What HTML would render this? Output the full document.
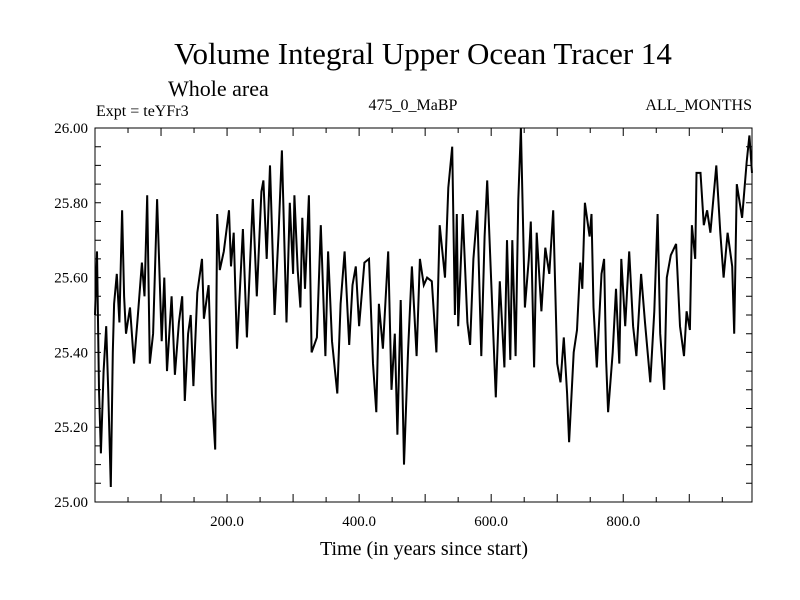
<!DOCTYPE html>
<html><head><meta charset="utf-8">
<style>
html,body{margin:0;padding:0;background:#fff;}
svg{display:block;font-family:"Liberation Serif",serif;}
</style></head>
<body>
<svg id="chart" width="800" height="600" viewBox="0 0 800 600" xmlns="http://www.w3.org/2000/svg">
<rect width="800" height="600" fill="#fff"/>
<text x="423" y="64" font-size="31" text-anchor="middle">Volume Integral Upper Ocean Tracer 14</text>
<text x="168" y="96" font-size="22">Whole area</text>
<text x="96" y="116" font-size="16">Expt = teYFr3</text>
<text x="413" y="110" font-size="16" text-anchor="middle">475_0_MaBP</text>
<text x="752" y="110" font-size="16" text-anchor="end">ALL_MONTHS</text>
<text x="424" y="555" font-size="20" text-anchor="middle">Time (in years since start)</text>
<g id="axes"></g>
<g id="series"></g>
<rect x="95" y="128" width="657" height="374" fill="none" stroke="#000" stroke-width="1"/>
</svg>
<script>
const years=[0,3,6,9,13,17,20,24,27,29,33,37,41,44,47,53,59,65,71,75,79,83,88,94,101,105,109,116,121,127,132,136,141,145,149,155,162,165,172,177,182,185,189,195,203,206,210,215,224,230,239,245,252,255,260,265,272,278,283,290,295,300,302,307,311,314,318,324,328,336,342,349,353,359,367,372,378,385,390,395,400,408,415,421,426,430,436,444,449,454,458,463,468,474,480,487,492,498,503,510,517,522,530,535,541,545,548,550,557,564,568,573,579,585,590,594,600,607,613,620,624,629,632,637,641,645,651,657,660,665,669,676,682,688,694,700,705,710,715,718,725,730,735,738,742,749,752,755,760,767,771,774,777,784,789,794,797,803,809,815,820,827,833,841,847,852,856,862,866,872,880,886,892,896,901,904,909,911,917,922,927,932,941,947,952,958,965,968,972,980,987,991,995];
const values=[25.50,25.67,25.30,25.13,25.35,25.47,25.30,25.04,25.40,25.53,25.61,25.48,25.78,25.55,25.45,25.52,25.37,25.50,25.64,25.55,25.82,25.37,25.45,25.81,25.43,25.60,25.35,25.55,25.34,25.48,25.55,25.27,25.45,25.50,25.31,25.56,25.65,25.49,25.58,25.29,25.14,25.77,25.62,25.67,25.78,25.63,25.72,25.41,25.73,25.44,25.81,25.55,25.83,25.86,25.65,25.90,25.50,25.72,25.94,25.48,25.80,25.61,25.82,25.62,25.52,25.76,25.57,25.82,25.40,25.44,25.74,25.39,25.67,25.43,25.29,25.53,25.67,25.42,25.58,25.63,25.47,25.64,25.65,25.37,25.24,25.53,25.41,25.67,25.30,25.45,25.18,25.54,25.10,25.40,25.63,25.39,25.65,25.58,25.60,25.59,25.40,25.74,25.60,25.84,25.95,25.50,25.77,25.47,25.77,25.48,25.42,25.65,25.78,25.39,25.71,25.86,25.59,25.28,25.59,25.36,25.70,25.38,25.70,25.39,25.81,26.00,25.52,25.65,25.75,25.36,25.72,25.51,25.68,25.61,25.78,25.37,25.32,25.44,25.29,25.16,25.40,25.46,25.64,25.57,25.80,25.71,25.77,25.52,25.36,25.61,25.65,25.38,25.24,25.40,25.57,25.37,25.65,25.47,25.67,25.47,25.39,25.61,25.48,25.32,25.51,25.77,25.45,25.30,25.60,25.66,25.69,25.47,25.39,25.51,25.46,25.74,25.65,25.88,25.88,25.74,25.78,25.72,25.90,25.72,25.60,25.72,25.63,25.45,25.85,25.76,25.91,25.98,25.88];
const xTickVals=[200,400,600,800];
const xTickLabels=["200.0","400.0","600.0","800.0"];
const yTickVals=[25.0,25.2,25.4,25.6,25.8,26.0];
const yTickLabels=["25.00","25.20","25.40","25.60","25.80","26.00"];

const X0=95,X1=752,Y0=128,Y1=502,XMIN=0,XMAX=995,YMIN=25,YMAX=26;
const sx=v=>X0+(v-XMIN)/(XMAX-XMIN)*(X1-X0);
const sy=v=>Y1-(v-YMIN)/(YMAX-YMIN)*(Y1-Y0);
const NS="http://www.w3.org/2000/svg";
const axes=document.getElementById('axes');
function mk(tag,attrs,parent){const e=document.createElementNS(NS,tag);for(const k in attrs)e.setAttribute(k,attrs[k]);parent.appendChild(e);return e;}
let d="";
for(let t=50;t<XMAX;t+=50){const x=sx(t);const L=(t%100===0)?8:5;d+=`M${x},${Y1}v${-L}M${x},${Y0}v${L}`;}
for(let v=25.05;v<26;v+=0.05){const y=sy(v);d+=`M${X0},${y}h6M${X1},${y}h-6`;}
const tk=mk('path',{d:d,stroke:'#000','stroke-width':1,fill:'none'},axes);


xTickVals.forEach((v,i)=>{const t=mk('text',{x:sx(v),y:526,'font-size':15,'text-anchor':'middle'},axes);t.textContent=xTickLabels[i];

});
yTickVals.forEach((v,i)=>{const t=mk('text',{x:88,y:sy(v)+5,'font-size':15,'text-anchor':'end'},axes);t.textContent=yTickLabels[i];

});
const pts=years.map((y,i)=>sx(y).toFixed(1)+","+sy(values[i]).toFixed(1)).join(" ");
const line=mk('polyline',{points:pts,fill:'none',stroke:'#000','stroke-width':2,'stroke-linejoin':'miter'},document.getElementById('series'));


</script>
</body></html>
